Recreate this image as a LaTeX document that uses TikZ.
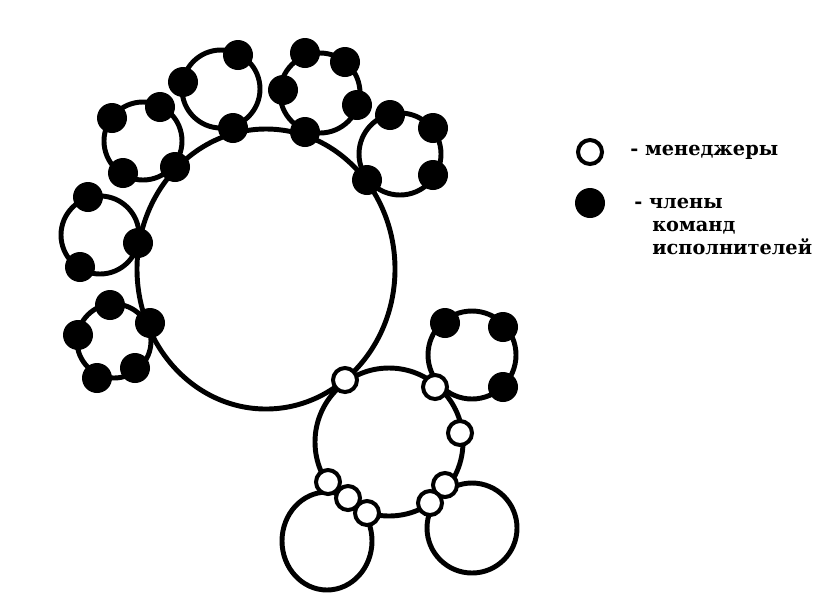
\documentclass[tikz,border=0pt]{standalone}
\usepackage{fontspec}
\setmainfont{DejaVu Serif}
\usetikzlibrary{positioning}

\begin{document}
\begin{tikzpicture}[x=0.75pt, y=-0.75pt,
    ring/.style={line width=3.7pt},
    member/.style={circle, fill=black, inner sep=0pt, minimum size=22.5pt},
    manager/.style={circle, draw, line width=3pt, fill=white,
                    inner sep=0pt, minimum size=18pt},
    lbl/.style={font=\bfseries\fontsize{14.5}{17.6}\selectfont,
                inner sep=0pt, anchor=west, align=left}
]
    \useasboundingbox (0,0) rectangle (830,594);

    % Big circle and its teams
    \draw[ring] (266,269) ellipse [x radius=129, y radius=140];
    \draw[ring] (221,89) circle [radius=39];
    \draw[ring] (320,93) circle [radius=40];
    \draw[ring] (143,141) circle [radius=39];
    \draw[ring] (400,154) circle [radius=41];
    \draw[ring] (100,235) circle [radius=39];
    \draw[ring] (114,341) circle [radius=37];

    % Managers circle and its teams
    \draw[ring] (389,442) circle [radius=74];
    \draw[ring] (472,355) circle [radius=44];
    \draw[ring] (327,541) ellipse [x radius=45, y radius=49];
    \draw[ring] (472,528) circle [radius=45];

    % Members on the big circle
    \node[member] (b1) at (233,128) {};
    \node[member] (b2) at (305,132) {};
    \node[member] (b3) at (175,167) {};
    \node[member] (b4) at (367,180) {};
    \node[member] (b5) at (138,243) {};
    \node[member] (b6) at (150,323) {};

    % Members of the small teams
    \node[member] (a1) at (183,82) {};
    \node[member] (a2) at (238,55) {};
    \node[member] (c1) at (305,53) {};
    \node[member] (c2) at (345,62) {};
    \node[member] (c3) at (283,90) {};
    \node[member] (c4) at (357,105) {};
    \node[member] (d1) at (112,118) {};
    \node[member] (d2) at (160,107) {};
    \node[member] (d3) at (123,173) {};
    \node[member] (e1) at (390,115) {};
    \node[member] (e2) at (433,128) {};
    \node[member] (e3) at (433,175) {};
    \node[member] (f1) at (88,197) {};
    \node[member] (f2) at (80,267) {};
    \node[member] (g1) at (110,305) {};
    \node[member] (g2) at (78,335) {};
    \node[member] (g3) at (135,368) {};
    \node[member] (g4) at (97,378) {};
    \node[member] (h1) at (445,323) {};
    \node[member] (h2) at (503,327) {};
    \node[member] (h3) at (503,387) {};

    % Managers
    \node[manager] (m1) at (345,380) {};
    \node[manager] (m2) at (435,387) {};
    \node[manager] (m3) at (460,433) {};
    \node[manager] (m4) at (328,482) {};
    \node[manager] (m5) at (348,498) {};
    \node[manager] (m6) at (367,513) {};
    \node[manager] (m7) at (445,485) {};
    \node[manager] (m8) at (430,503) {};

    % Legend
    \node[manager] (lgmgr) at (590,152) {};
    \node[member] (lgmem) at (590,203) {};
    \node[lbl] (mgrtxt) at (630,152) {- менеджеры};
    \node[lbl] (memtxt) at (634,203) {- члены};
    \node[lbl] (memtxt2) at (652,238) {команд\\исполнителей};
\end{tikzpicture}
\end{document}
